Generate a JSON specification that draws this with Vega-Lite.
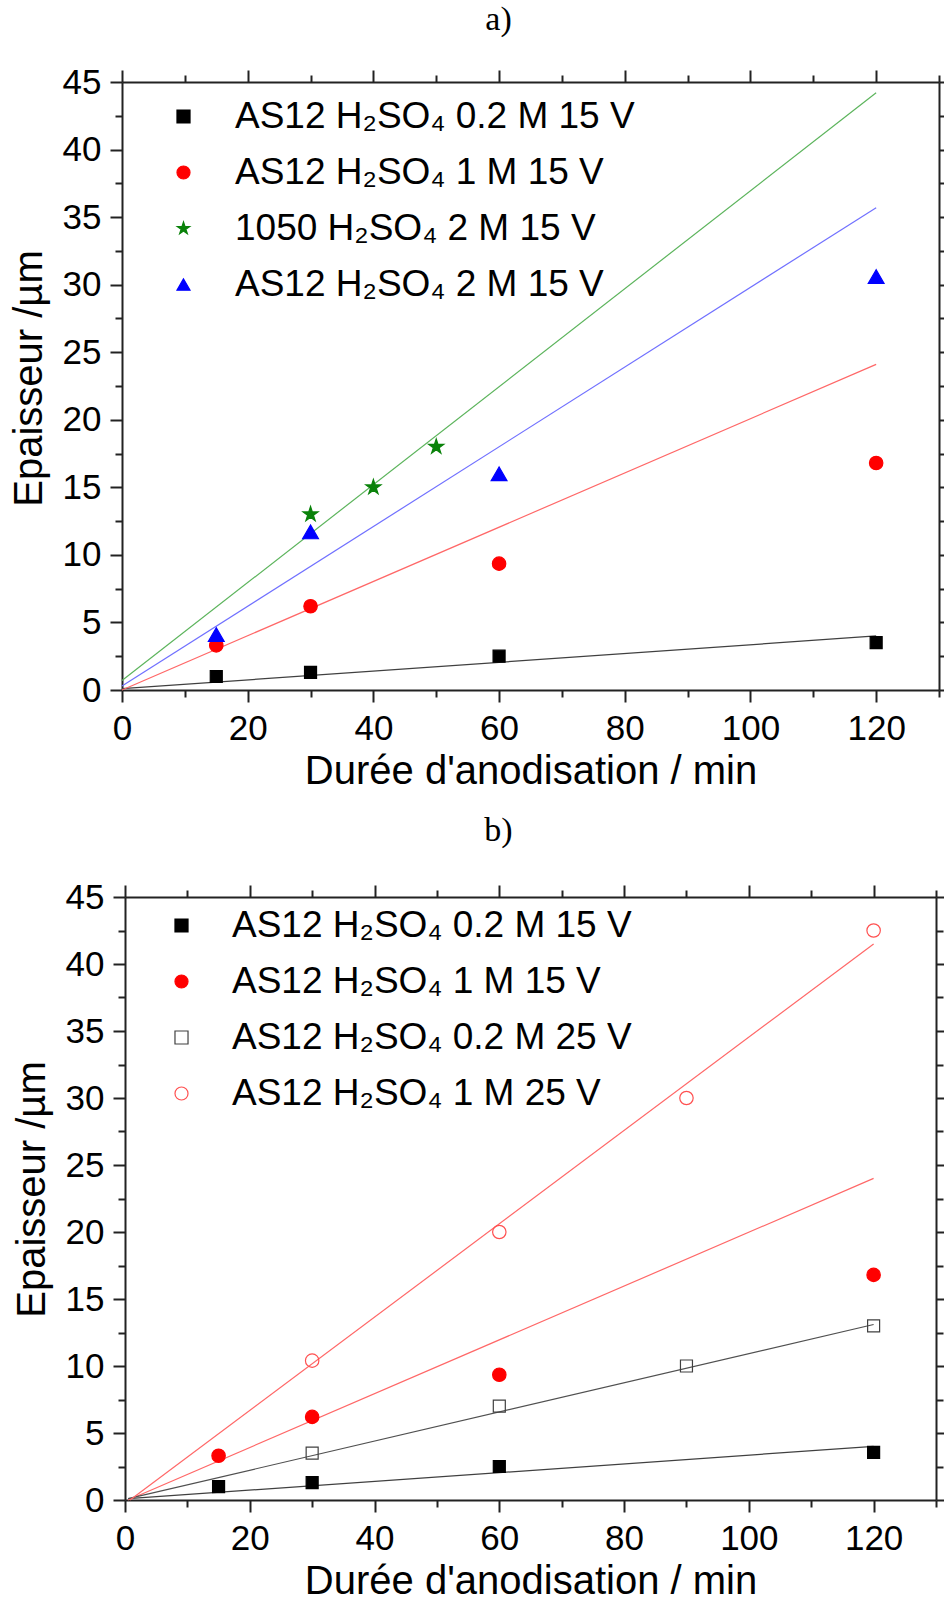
{
  "$schema": "https://vega.github.io/schema/vega-lite/v6.json",
  "padding": {"left": 9, "top": 3, "right": 0, "bottom": 0},
  "background": "white",
  "config": {
    "font": "Liberation Sans",
    "view": {"stroke": null},
    "axis": {"domainColor": "#222222", "domainWidth": 2, "tickColor": "#222222", "tickWidth": 2, "labelColor": "black", "titleColor": "black", "labelFont": "Liberation Sans", "titleFont": "Liberation Sans", "labelFontSize": 35, "titleFontSize": 40, "titleFontWeight": "normal", "grid": false, "labelPadding": 9},
    "legend": {"title": null, "labelFontSize": 37, "labelFont": "Liberation Sans", "labelColor": "black", "labelLimit": 0, "symbolSize": 170, "symbolStrokeWidth": 1.2, "padding": 0}
  },
  "datasets": {
    "ptsA": [
      {"series": "AS12 H₂SO₄ 0.2 M 15 V", "t": 15, "e": 1.0},
      {"series": "AS12 H₂SO₄ 0.2 M 15 V", "t": 30, "e": 1.3},
      {"series": "AS12 H₂SO₄ 0.2 M 15 V", "t": 60, "e": 2.5},
      {"series": "AS12 H₂SO₄ 0.2 M 15 V", "t": 120, "e": 3.5},
      {"series": "AS12 H₂SO₄ 1 M 15 V", "t": 15, "e": 3.3},
      {"series": "AS12 H₂SO₄ 1 M 15 V", "t": 30, "e": 6.2},
      {"series": "AS12 H₂SO₄ 1 M 15 V", "t": 60, "e": 9.35},
      {"series": "AS12 H₂SO₄ 1 M 15 V", "t": 120, "e": 16.8},
      {"series": "1050 H₂SO₄ 2 M 15 V", "t": 30, "e": 13.0},
      {"series": "1050 H₂SO₄ 2 M 15 V", "t": 40, "e": 15.0},
      {"series": "1050 H₂SO₄ 2 M 15 V", "t": 50, "e": 18.0},
      {"series": "AS12 H₂SO₄ 2 M 15 V", "t": 15, "e": 4.1},
      {"series": "AS12 H₂SO₄ 2 M 15 V", "t": 30, "e": 11.7},
      {"series": "AS12 H₂SO₄ 2 M 15 V", "t": 60, "e": 16.0},
      {"series": "AS12 H₂SO₄ 2 M 15 V", "t": 120, "e": 30.6}
    ],
    "fitA": [
      {"series": "AS12 H₂SO₄ 0.2 M 15 V", "t": 0, "e": 0.1},
      {"series": "AS12 H₂SO₄ 0.2 M 15 V", "t": 120, "e": 4.0},
      {"series": "AS12 H₂SO₄ 1 M 15 V", "t": 0, "e": 0.0},
      {"series": "AS12 H₂SO₄ 1 M 15 V", "t": 120, "e": 24.1},
      {"series": "1050 H₂SO₄ 2 M 15 V", "t": 0, "e": 0.7},
      {"series": "1050 H₂SO₄ 2 M 15 V", "t": 120, "e": 44.2},
      {"series": "AS12 H₂SO₄ 2 M 15 V", "t": 0, "e": 0.3},
      {"series": "AS12 H₂SO₄ 2 M 15 V", "t": 120, "e": 35.7}
    ],
    "ptsB": [
      {"series": "AS12 H₂SO₄ 0.2 M 15 V", "t": 15, "e": 1.0},
      {"series": "AS12 H₂SO₄ 0.2 M 15 V", "t": 30, "e": 1.3},
      {"series": "AS12 H₂SO₄ 0.2 M 15 V", "t": 60, "e": 2.5},
      {"series": "AS12 H₂SO₄ 0.2 M 15 V", "t": 120, "e": 3.55},
      {"series": "AS12 H₂SO₄ 1 M 15 V", "t": 15, "e": 3.3},
      {"series": "AS12 H₂SO₄ 1 M 15 V", "t": 30, "e": 6.2},
      {"series": "AS12 H₂SO₄ 1 M 15 V", "t": 60, "e": 9.35},
      {"series": "AS12 H₂SO₄ 1 M 15 V", "t": 120, "e": 16.8},
      {"series": "AS12 H₂SO₄ 0.2 M 25 V", "t": 30, "e": 3.5},
      {"series": "AS12 H₂SO₄ 0.2 M 25 V", "t": 60, "e": 7.0},
      {"series": "AS12 H₂SO₄ 0.2 M 25 V", "t": 90, "e": 10.0},
      {"series": "AS12 H₂SO₄ 0.2 M 25 V", "t": 120, "e": 13.0},
      {"series": "AS12 H₂SO₄ 1 M 25 V", "t": 30, "e": 10.4},
      {"series": "AS12 H₂SO₄ 1 M 25 V", "t": 60, "e": 20.0},
      {"series": "AS12 H₂SO₄ 1 M 25 V", "t": 90, "e": 30.0},
      {"series": "AS12 H₂SO₄ 1 M 25 V", "t": 120, "e": 42.5}
    ],
    "fitB": [
      {"series": "AS12 H₂SO₄ 0.2 M 15 V", "t": 0.5, "e": 0.1},
      {"series": "AS12 H₂SO₄ 0.2 M 15 V", "t": 120, "e": 4.0},
      {"series": "AS12 H₂SO₄ 1 M 15 V", "t": 0.5, "e": 0.0},
      {"series": "AS12 H₂SO₄ 1 M 15 V", "t": 120, "e": 24.0},
      {"series": "AS12 H₂SO₄ 0.2 M 25 V", "t": 0.5, "e": 0.1},
      {"series": "AS12 H₂SO₄ 0.2 M 25 V", "t": 120, "e": 13.1},
      {"series": "AS12 H₂SO₄ 1 M 25 V", "t": 0.8, "e": 0.0},
      {"series": "AS12 H₂SO₄ 1 M 25 V", "t": 120, "e": 41.5}
    ]
  },
  "spacing": 207,
  "bounds": "flush",
  "center": true,
  "resolve": {
    "scale": {"x": "independent", "y": "independent", "color": "independent", "fill": "independent", "stroke": "independent", "shape": "independent"},
    "legend": {"color": "independent", "fill": "independent", "stroke": "independent", "shape": "independent"}
  },
  "vconcat": [
    {
      "width": 817,
      "height": 608,
      "title": {"text": "a)", "font": "Liberation Serif", "fontSize": 34, "fontWeight": "normal", "color": "black", "anchor": "middle", "dx": -32, "offset": 28},
      "resolve": {"axis": {"x": "independent", "y": "independent"}},
      "layer": [
        {
          "data": {"name": "fitA"},
          "mark": {"type": "line", "strokeWidth": 1.2},
          "encoding": {
            "x": {"field": "t", "type": "quantitative", "scale": {"domain": [0, 130], "nice": false},
              "axis": {"orient": "bottom", "values": [0, 10, 20, 30, 40, 50, 60, 70, 80, 90, 100, 110, 120, 130], "labelExpr": "datum.value % 20 === 0 ? datum.label : ''", "tickSize": {"condition": {"test": "datum.value % 20 === 0", "value": 12}, "value": 7}, "title": "Durée d'anodisation / min", "titlePadding": 5, "labelFlush": false, "labelOverlap": false}},
            "y": {"field": "e", "type": "quantitative", "scale": {"domain": [0, 45], "nice": false},
              "axis": {"orient": "left", "values": [0, 2.5, 5, 7.5, 10, 12.5, 15, 17.5, 20, 22.5, 25, 27.5, 30, 32.5, 35, 37.5, 40, 42.5, 45], "labelExpr": "datum.value % 5 === 0 ? datum.label : ''", "tickSize": {"condition": {"test": "datum.value % 5 === 0", "value": 12}, "value": 7}, "title": "Epaisseur /µm", "titleFontSize": 40, "titlePadding": 13, "titleY": 296, "labelOverlap": false}},
            "color": {"field": "series", "type": "nominal", "legend": null,
              "scale": {"domain": ["AS12 H₂SO₄ 2 M 15 V", "1050 H₂SO₄ 2 M 15 V", "AS12 H₂SO₄ 1 M 15 V", "AS12 H₂SO₄ 0.2 M 15 V"], "range": ["#7070ff", "#5cb45c", "#ff6868", "#404040"]}}
          }
        },
        {
          "data": {"name": "ptsA"},
          "mark": {"type": "point", "strokeWidth": 1.2, "opacity": 1},
          "encoding": {
            "x": {"field": "t", "type": "quantitative",
              "axis": {"orient": "top", "values": [0, 10, 20, 30, 40, 50, 60, 70, 80, 90, 100, 110, 120, 130], "labels": false, "title": null, "tickSize": {"condition": {"test": "datum.value % 20 === 0", "value": 12}, "value": 7}}},
            "y": {"field": "e", "type": "quantitative",
              "axis": {"orient": "right", "values": [0, 2.5, 5, 7.5, 10, 12.5, 15, 17.5, 20, 22.5, 25, 27.5, 30, 32.5, 35, 37.5, 40, 42.5, 45], "labels": false, "title": null, "tickSize": {"condition": {"test": "datum.value % 5 === 0", "value": 12}, "value": 7}}},
            "shape": {"field": "series", "type": "nominal",
              "scale": {"domain": ["AS12 H₂SO₄ 0.2 M 15 V", "AS12 H₂SO₄ 1 M 15 V", "1050 H₂SO₄ 2 M 15 V", "AS12 H₂SO₄ 2 M 15 V"], "range": ["square", "circle", "M0,-1L0.2245,-0.309L0.9511,-0.309L0.3633,0.118L0.5878,0.809L0,0.382L-0.5878,0.809L-0.3633,0.118L-0.9511,-0.309L-0.2245,-0.309Z", "triangle-up"]},
              "legend": {"orient": "none", "legendX": 43, "legendY": 16, "rowPadding": 18, "labelOffset": 33}},
            "fill": {"field": "series", "type": "nominal",
              "scale": {"domain": ["AS12 H₂SO₄ 0.2 M 15 V", "AS12 H₂SO₄ 1 M 15 V", "1050 H₂SO₄ 2 M 15 V", "AS12 H₂SO₄ 2 M 15 V"], "range": ["#000000", "#ff0000", "#0a820a", "#0000ff"]},
              "legend": {"orient": "none", "legendX": 43, "legendY": 16, "rowPadding": 18, "labelOffset": 33}},
            "stroke": {"field": "series", "type": "nominal",
              "scale": {"domain": ["AS12 H₂SO₄ 0.2 M 15 V", "AS12 H₂SO₄ 1 M 15 V", "1050 H₂SO₄ 2 M 15 V", "AS12 H₂SO₄ 2 M 15 V"], "range": ["#000000", "#ff0000", "#0a820a", "#0000ff"]},
              "legend": {"orient": "none", "legendX": 43, "legendY": 16, "rowPadding": 18, "labelOffset": 33}},
            "size": {"condition": [
                {"test": "datum.series === 'AS12 H₂SO₄ 0.2 M 15 V'", "value": 144},
                {"test": "datum.series === '1050 H₂SO₄ 2 M 15 V' || datum.series === 'AS12 H₂SO₄ 2 M 15 V'", "value": 250}
              ], "value": 180}
          }
        }
      ]
    },
    {
      "width": 811,
      "height": 603,
      "title": {"text": "b)", "font": "Liberation Serif", "fontSize": 34, "fontWeight": "normal", "color": "black", "anchor": "middle", "dx": -32, "offset": 32},
      "resolve": {"axis": {"x": "independent", "y": "independent"}},
      "layer": [
        {
          "data": {"name": "fitB"},
          "mark": {"type": "line", "strokeWidth": 1.2},
          "encoding": {
            "x": {"field": "t", "type": "quantitative", "scale": {"domain": [0, 130], "nice": false},
              "axis": {"orient": "bottom", "values": [0, 10, 20, 30, 40, 50, 60, 70, 80, 90, 100, 110, 120, 130], "labelExpr": "datum.value % 20 === 0 ? datum.label : ''", "tickSize": {"condition": {"test": "datum.value % 20 === 0", "value": 12}, "value": 7}, "title": "Durée d'anodisation / min", "titlePadding": 5, "labelFlush": false, "labelOverlap": false}},
            "y": {"field": "e", "type": "quantitative", "scale": {"domain": [0, 45], "nice": false},
              "axis": {"orient": "left", "values": [0, 2.5, 5, 7.5, 10, 12.5, 15, 17.5, 20, 22.5, 25, 27.5, 30, 32.5, 35, 37.5, 40, 42.5, 45], "labelExpr": "datum.value % 5 === 0 ? datum.label : ''", "tickSize": {"condition": {"test": "datum.value % 5 === 0", "value": 12}, "value": 7}, "title": "Epaisseur /µm", "titleFontSize": 40, "titlePadding": 13, "titleY": 292, "labelOverlap": false}},
            "color": {"field": "series", "type": "nominal", "legend": null,
              "scale": {"domain": ["AS12 H₂SO₄ 1 M 25 V", "AS12 H₂SO₄ 0.2 M 25 V", "AS12 H₂SO₄ 1 M 15 V", "AS12 H₂SO₄ 0.2 M 15 V"], "range": ["#ff6868", "#505050", "#ff6868", "#404040"]}}
          }
        },
        {
          "data": {"name": "ptsB"},
          "mark": {"type": "point", "strokeWidth": 1.2, "opacity": 1},
          "encoding": {
            "x": {"field": "t", "type": "quantitative",
              "axis": {"orient": "top", "values": [0, 10, 20, 30, 40, 50, 60, 70, 80, 90, 100, 110, 120, 130], "labels": false, "title": null, "tickSize": {"condition": {"test": "datum.value % 20 === 0", "value": 12}, "value": 7}}},
            "y": {"field": "e", "type": "quantitative",
              "axis": {"orient": "right", "values": [0, 2.5, 5, 7.5, 10, 12.5, 15, 17.5, 20, 22.5, 25, 27.5, 30, 32.5, 35, 37.5, 40, 42.5, 45], "labels": false, "title": null, "tickSize": {"condition": {"test": "datum.value % 5 === 0", "value": 12}, "value": 7}}},
            "shape": {"field": "series", "type": "nominal",
              "scale": {"domain": ["AS12 H₂SO₄ 0.2 M 15 V", "AS12 H₂SO₄ 1 M 15 V", "AS12 H₂SO₄ 0.2 M 25 V", "AS12 H₂SO₄ 1 M 25 V"], "range": ["square", "circle", "square", "circle"]},
              "legend": {"orient": "none", "legendX": 38, "legendY": 10, "rowPadding": 18, "labelOffset": 32}},
            "fill": {"field": "series", "type": "nominal",
              "scale": {"domain": ["AS12 H₂SO₄ 0.2 M 15 V", "AS12 H₂SO₄ 1 M 15 V", "AS12 H₂SO₄ 0.2 M 25 V", "AS12 H₂SO₄ 1 M 25 V"], "range": ["#000000", "#ff0000", "transparent", "transparent"]},
              "legend": {"orient": "none", "legendX": 38, "legendY": 10, "rowPadding": 18, "labelOffset": 32}},
            "stroke": {"field": "series", "type": "nominal",
              "scale": {"domain": ["AS12 H₂SO₄ 0.2 M 15 V", "AS12 H₂SO₄ 1 M 15 V", "AS12 H₂SO₄ 0.2 M 25 V", "AS12 H₂SO₄ 1 M 25 V"], "range": ["#000000", "#ff0000", "#404040", "#ff5050"]},
              "legend": {"orient": "none", "legendX": 38, "legendY": 10, "rowPadding": 18, "labelOffset": 32}},
            "size": {"condition": {"test": "datum.series === 'AS12 H₂SO₄ 0.2 M 15 V' || datum.series === 'AS12 H₂SO₄ 0.2 M 25 V'", "value": 144}, "value": 180}
          }
        }
      ]
    }
  ]
}
